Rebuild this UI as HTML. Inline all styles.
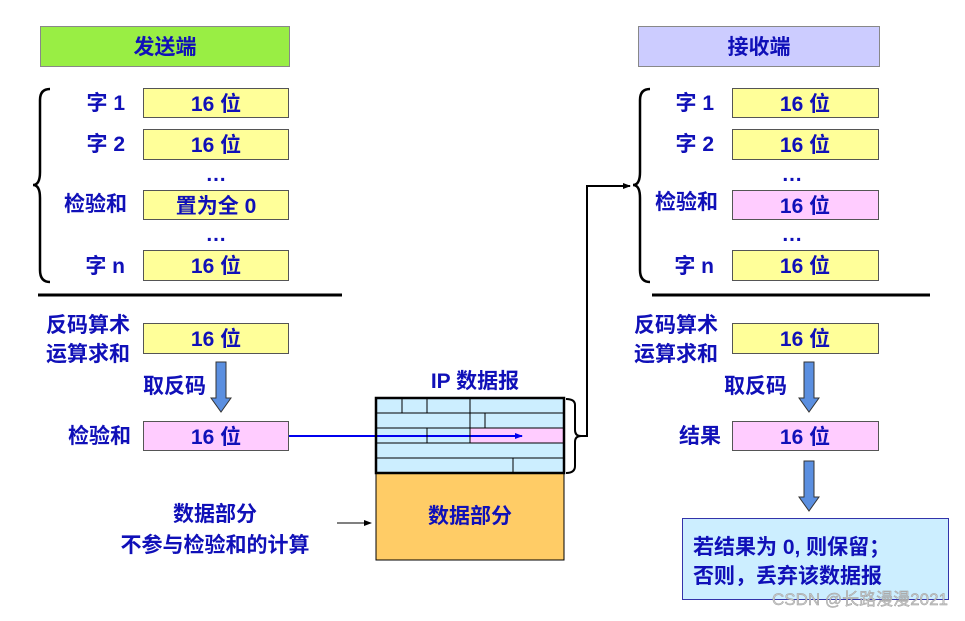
<!DOCTYPE html>
<html><head><meta charset="utf-8"><style>
body{margin:0;background:#fff}
svg text{font-family:"Liberation Sans","Noto Sans CJK SC",sans-serif;font-weight:bold;fill:#1010b8;font-size:21px}
</style></head><body>
<svg width="965" height="616" viewBox="0 0 965 616" xmlns="http://www.w3.org/2000/svg">
<defs>
<marker id="ah" markerWidth="8" markerHeight="8" refX="7" refY="4" orient="auto" markerUnits="userSpaceOnUse"><path d="M0,1 L8,4 L0,7 z" fill="#0000ee"/></marker>
<marker id="ak" markerWidth="8" markerHeight="8" refX="7" refY="4" orient="auto" markerUnits="userSpaceOnUse"><path d="M0,1 L8,4 L0,7 z" fill="#000"/></marker>
</defs>
<!-- headers -->
<rect x="40.5" y="26.5" width="249" height="40" fill="#99ee44" stroke="#888"/>
<text x="165" y="54" text-anchor="middle">发送端</text>
<rect x="638.5" y="26.5" width="241" height="40" fill="#ccccff" stroke="#888"/>
<text x="759" y="54" text-anchor="middle">接收端</text>

<!-- left column -->
<g stroke="#555" stroke-width="1">
<rect x="143.5" y="88.5" width="145" height="29" fill="#ffff99"/>
<rect x="143.5" y="129.5" width="145" height="30" fill="#ffff99"/>
<rect x="143.5" y="190.5" width="145" height="29" fill="#ffff99"/>
<rect x="143.5" y="250.5" width="145" height="30" fill="#ffff99"/>
<rect x="143.5" y="323.5" width="145" height="30" fill="#ffff99"/>
<rect x="143.5" y="421.5" width="145" height="29" fill="#ffccff"/>
</g>
<g text-anchor="middle">
<text x="216" y="111">16 位</text><text x="216" y="152">16 位</text>
<text x="216" y="181">…</text>
<text x="216" y="213">置为全 0</text>
<text x="216" y="241">…</text>
<text x="216" y="273">16 位</text>
<text x="216" y="346">16 位</text>
<text x="216" y="444">16 位</text>
</g>
<g text-anchor="end">
<text x="125" y="110">字 1</text><text x="125" y="151">字 2</text>
<text x="127" y="211">检验和</text><text x="125" y="273">字 n</text>
<text x="130" y="332">反码算术</text><text x="130" y="361">运算求和</text>
<text x="206" y="393">取反码</text>
<text x="131" y="443">检验和</text>
</g>
<path d="M50,89 Q40,89 40,100 L40,172 Q40,185 33,185 Q40,185 40,198 L40,270 Q40,282 50,282" fill="none" stroke="#000" stroke-width="2.5"/>
<line x1="38" y1="295" x2="342" y2="295" stroke="#000" stroke-width="3"/>
<path d="M216,362 L226,362 L226,398 L231,398 L221,412 L211,398 L216,398 z" fill="#5b8fe0" stroke="#333"/>
<line x1="289" y1="436" x2="522" y2="436" stroke="#0000ee" stroke-width="2" marker-end="url(#ah)"/>

<!-- IP datagram -->
<text x="475" y="388" text-anchor="middle">IP 数据报</text>
<rect x="376" y="398" width="188" height="75" fill="#cceeff"/>
<rect x="470" y="428" width="94" height="15" fill="#ffccff"/>
<line x1="289" y1="436" x2="522" y2="436" stroke="#0000ee" stroke-width="2" marker-end="url(#ah)"/>
<g stroke="#000" stroke-width="1">
<line x1="376" y1="413" x2="564" y2="413"/><line x1="376" y1="428" x2="564" y2="428"/>
<line x1="376" y1="443" x2="564" y2="443"/><line x1="376" y1="458" x2="564" y2="458"/>
<line x1="402" y1="398" x2="402" y2="413"/><line x1="427" y1="398" x2="427" y2="413"/><line x1="470" y1="398" x2="470" y2="413"/>
<line x1="470" y1="413" x2="470" y2="428"/><line x1="485" y1="413" x2="485" y2="428"/>
<line x1="427" y1="428" x2="427" y2="443"/><line x1="470" y1="428" x2="470" y2="443"/>
<line x1="513" y1="458" x2="513" y2="473"/>
</g>
<rect x="376" y="473" width="188" height="87" fill="#ffcc66" stroke="#000" stroke-width="1"/>
<rect x="376" y="398" width="188" height="75" fill="none" stroke="#000" stroke-width="2.5"/>
<text x="470" y="523" text-anchor="middle">数据部分</text>
<path d="M566,399 Q575,399 575,405 L575,430 Q575,436 581,436 Q575,436 575,442 L575,466 Q575,473 566,473" fill="none" stroke="#000" stroke-width="2"/>
<polyline points="580,436 587,436 587,186 630,186" fill="none" stroke="#000" stroke-width="2" marker-end="url(#ak)"/>
<text x="215" y="521" text-anchor="middle">数据部分</text>
<text x="215" y="552" text-anchor="middle">不参与检验和的计算</text>
<line x1="337" y1="523" x2="371" y2="523" stroke="#000" stroke-width="1" marker-end="url(#ak)"/>

<!-- right column -->
<g stroke="#555" stroke-width="1">
<rect x="732.5" y="88.5" width="146" height="29" fill="#ffff99"/>
<rect x="732.5" y="129.5" width="146" height="30" fill="#ffff99"/>
<rect x="732.5" y="190.5" width="146" height="29" fill="#ffccff"/>
<rect x="732.5" y="250.5" width="146" height="30" fill="#ffff99"/>
<rect x="732.5" y="323.5" width="146" height="30" fill="#ffff99"/>
<rect x="732.5" y="421.5" width="146" height="29" fill="#ffccff"/>
</g>
<g text-anchor="middle">
<text x="805" y="111">16 位</text><text x="805" y="152">16 位</text>
<text x="792" y="181">…</text>
<text x="805" y="213">16 位</text>
<text x="792" y="241">…</text>
<text x="805" y="273">16 位</text>
<text x="805" y="346">16 位</text>
<text x="805" y="444">16 位</text>
</g>
<g text-anchor="end">
<text x="714" y="110">字 1</text><text x="714" y="151">字 2</text>
<text x="718" y="209">检验和</text><text x="714" y="273">字 n</text>
<text x="718" y="332">反码算术</text><text x="718" y="361">运算求和</text>
<text x="787" y="393">取反码</text>
<text x="721" y="443">结果</text>
</g>
<path d="M650,89 Q640,89 640,100 L640,172 Q640,185 633,185 Q640,185 640,198 L640,270 Q640,282 650,282" fill="none" stroke="#000" stroke-width="2.5"/>
<line x1="652" y1="295" x2="930" y2="295" stroke="#000" stroke-width="3"/>
<path d="M804,362 L814,362 L814,398 L819,398 L809,412 L799,398 L804,398 z" fill="#5b8fe0" stroke="#333"/>
<path d="M804,461 L814,461 L814,497 L819,497 L809,511 L799,497 L804,497 z" fill="#5b8fe0" stroke="#333"/>
<rect x="682.5" y="518.5" width="266" height="81" fill="#cceeff" stroke="#3333aa"/>
<text x="693" y="554">若结果为 0, 则保留；</text>
<text x="693" y="583">否则，丢弃该数据报</text>
<text x="948" y="605" text-anchor="end" style="font-weight:normal;font-size:17px;fill:#c8c8c8;stroke:#999;stroke-width:0.4">CSDN @长路漫漫2021</text>
</svg>
</body></html>
